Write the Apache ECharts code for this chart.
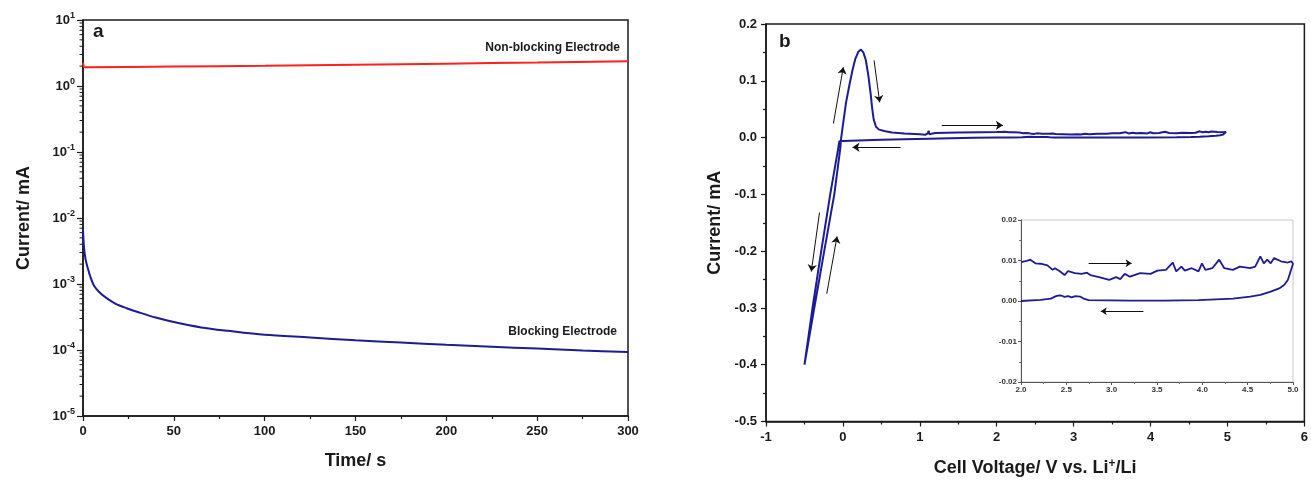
<!DOCTYPE html>
<html>
<head>
<meta charset="utf-8">
<script src="https://cdn.jsdelivr.net/npm/echarts@6/dist/echarts.min.js"></script>
<style>
  html, body { margin: 0; padding: 0; background: #fff; }
  #chart { width: 1311px; height: 482px; }
</style>
</head>
<body>
<div id="chart"></div>
<script>
// panel a: current vs time (log scale)
var timeBlocking = [0, 0.3, 0.6, 1, 1.5, 2.5, 4, 6, 9, 13, 18, 24, 31, 40, 50, 65, 80, 100, 125, 150, 175, 200, 225, 250, 275, 300];
var currentBlocking = [6.5e-3, 4.5e-3, 3.5e-3, 2.8e-3, 2.3e-3, 1.8e-3, 1.3e-3, 9.5e-4, 7.5e-4, 6.1e-4, 5.0e-4, 4.3e-4, 3.7e-4, 3.1e-4, 2.65e-4, 2.2e-4, 1.95e-4, 1.7e-4, 1.55e-4, 1.4e-4, 1.3e-4, 1.2e-4, 1.12e-4, 1.05e-4, 0.98e-4, 0.93e-4];
var timeNonBlocking = [0, 0.5, 1, 2, 50, 100, 150, 200, 250, 300];
var currentNonBlocking = [2.25, 1.95, 1.93, 1.92, 1.97, 2.03, 2.1, 2.18, 2.27, 2.38];
var logMinorTicks = [];
for (var n = -5; n < 1; n++) {
  for (var k = 2; k < 10; k++) logMinorTicks.push(k * Math.pow(10, n));
}

// panel b: cyclic voltammogram [V, mA]
var cvForwardLow = [[-0.50,-0.400],[-0.372,-0.300],[-0.243,-0.200],[-0.112,-0.100],[-0.035,-0.020],[-0.022,0.000],[0.00,0.022],[0.04,0.061],[0.085,0.093],[0.125,0.119],[0.16,0.138],[0.20,0.151],[0.235,0.155],[0.265,0.150],[0.297,0.137],[0.33,0.110],[0.36,0.078],[0.38,0.052],[0.40,0.032],[0.43,0.019],[0.47,0.014],[0.55,0.011],[0.64,0.009],[0.80,0.007],[1.00,0.006],[1.07,0.005],[1.10,0.007],[1.115,0.012],[1.125,0.006],[1.2,0.008],[1.5,0.009],[1.8,0.0095]];
var insetForward = [[2.000,0.0096],[2.064,0.0099],[2.102,0.0102],[2.159,0.0093],[2.216,0.0092],[2.292,0.0088],[2.348,0.0077],[2.375,0.0081],[2.424,0.0074],[2.481,0.0064],[2.519,0.0074],[2.595,0.0069],[2.670,0.0067],[2.727,0.0070],[2.765,0.0064],[2.860,0.0059],[2.973,0.0052],[3.049,0.0059],[3.095,0.0054],[3.144,0.0067],[3.201,0.0060],[3.314,0.0069],[3.428,0.0067],[3.504,0.0075],[3.598,0.0077],[3.674,0.0095],[3.712,0.0073],[3.769,0.0085],[3.807,0.0075],[3.883,0.0081],[3.958,0.0073],[3.996,0.0093],[4.034,0.0077],[4.110,0.0081],[4.186,0.0102],[4.242,0.0081],[4.337,0.0077],[4.413,0.0085],[4.527,0.0081],[4.583,0.0085],[4.640,0.0110],[4.678,0.0093],[4.716,0.0102],[4.754,0.0093],[4.792,0.0106],[4.867,0.0098],[4.943,0.0095],[4.981,0.0098],[5.000,0.0092]];
var insetReverse = [[5.000,0.0092],[4.973,0.0073],[4.943,0.0052],[4.905,0.0040],[4.848,0.0031],[4.754,0.0023],[4.640,0.0015],[4.527,0.0011],[4.337,0.0006],[3.958,0.0002],[3.580,0.0001],[3.201,0.0001],[2.746,0.0002],[2.689,0.0006],[2.652,0.0011],[2.63,0.0008],[2.60,0.0012],[2.557,0.0009],[2.52,0.0012],[2.481,0.0010],[2.45,0.0013],[2.424,0.0014],[2.386,0.0012],[2.330,0.0006],[2.216,0.0003],[2.000,0.0000]];
var cvReverseLow = [[1.7,-0.0005],[1.4,-0.001],[1.12,-0.002],[0.8,-0.003],[0.5,-0.004],[0.2,-0.0052],[0.0,-0.006],[-0.046,-0.0065],[-0.075,-0.030],[-0.165,-0.100],[-0.282,-0.200],[-0.395,-0.300],[-0.50,-0.400]];
var cvLoop = cvForwardLow.concat(insetForward, insetReverse, cvReverseLow);
var insetLoop = insetForward.concat(insetReverse);

// scan direction arrows [from, to]
var cvArrows = [
  [[-0.124, 0.0246], [0.005, 0.124]],
  [[0.405, 0.136], [0.478, 0.062]],
  [[1.285, 0.0216], [2.08, 0.0216]],
  [[0.749, -0.017], [0.125, -0.017]],
  [[-0.304, -0.132], [-0.411, -0.236]],
  [[-0.21, -0.275], [-0.076, -0.174]]
];
var insetArrows = [
  [[2.746, 0.0093], [3.22, 0.0093]],
  [[3.35, -0.0025], [2.88, -0.0025]]
];

var FONT = 'Liberation Sans, Arial, sans-serif';
var ink = '#1a1a1a';
var navy = '#1c1c96';

function arrowLines(list) {
  return list.map(function (a) {
    return [{ coord: a[0] }, { coord: a[1] }];
  });
}

var chart = echarts.init(document.getElementById('chart'));

var baseAxisLabel = { color: ink, fontFamily: FONT, fontWeight: 'bold', fontSize: 13 };
var axisLineBlack = { show: true, onZero: false, lineStyle: { color: ink, width: 1.5 } };
var axisLineInset = { show: true, onZero: false, lineStyle: { color: '#555', width: 1 } };

var option = {
  backgroundColor: '#fff',
  animation: false,
  grid: [
    { left: 83, top: 20, width: 545, height: 396, show: true, borderColor: ink, borderWidth: 1.5 },
    { left: 766, top: 24, width: 544, height: 399, show: true, borderColor: ink, borderWidth: 1.5 },
    { left: 1021, top: 220, width: 272, height: 162, show: true, borderColor: '#c8c8c8', borderWidth: 1, backgroundColor: '#fff' }
  ],
  xAxis: [
    {
      gridIndex: 0, type: 'value', min: 0, max: 300, interval: 50,
      name: 'Time/ s', nameLocation: 'middle', nameGap: 36,
      nameTextStyle: { color: ink, fontFamily: FONT, fontWeight: 'bold', fontSize: 18 },
      axisLine: axisLineBlack,
      axisTick: { show: true, length: 5, lineStyle: { color: ink, width: 1.2 } },
      minorTick: { show: true, splitNumber: 2, length: 3, lineStyle: { color: ink, width: 1.2 } },
      axisLabel: Object.assign({ margin: 9 }, baseAxisLabel),
      splitLine: { show: false }
    },
    {
      gridIndex: 1, type: 'value', min: -1, max: 6, interval: 1,
      name: '{t|Cell Voltage/ V vs. Li}{s|+}{t|/Li}', nameLocation: 'middle', nameGap: 36,
      nameTextStyle: {
        rich: {
          t: { color: ink, fontFamily: FONT, fontWeight: 'bold', fontSize: 18 },
          s: { color: ink, fontFamily: FONT, fontWeight: 'bold', fontSize: 12, padding: [0, 0, 9, 0] }
        }
      },
      axisLine: axisLineBlack,
      axisTick: { show: true, length: 5, lineStyle: { color: ink, width: 1.2 } },
      minorTick: { show: true, splitNumber: 2, length: 3, lineStyle: { color: ink, width: 1.2 } },
      axisLabel: Object.assign({ margin: 9 }, baseAxisLabel),
      splitLine: { show: false }
    },
    {
      gridIndex: 2, type: 'value', min: 2, max: 5, interval: 0.5,
      axisLine: axisLineInset,
      axisTick: { show: true, length: 3, lineStyle: { color: '#555' } },
      minorTick: { show: true, splitNumber: 2, length: 2, lineStyle: { color: '#777' } },
      axisLabel: { color: '#333', fontFamily: FONT, fontWeight: 'bold', fontSize: 8, margin: 4, formatter: function (v) { return v.toFixed(1); } },
      splitLine: { show: false }
    }
  ],
  yAxis: [
    {
      gridIndex: 0, type: 'log', logBase: 10, min: 1e-5, max: 10, interval: 1,
      name: 'Current/ mA', nameLocation: 'middle', nameGap: 50,
      nameTextStyle: { color: ink, fontFamily: FONT, fontWeight: 'bold', fontSize: 18 },
      axisLine: axisLineBlack,
      axisTick: { show: true, length: 6, lineStyle: { color: ink, width: 1.2 } },
      axisLabel: {
        margin: 8,
        formatter: function (v) {
          var e = Math.round(Math.log(v) / Math.LN10);
          return '{b|10}{s|' + e + '}';
        },
        rich: {
          b: { color: ink, fontFamily: FONT, fontWeight: 'bold', fontSize: 13 },
          s: { color: ink, fontFamily: FONT, fontWeight: 'bold', fontSize: 9, padding: [0, 0, 8, 0] }
        }
      },
      splitLine: { show: false }
    },
    {
      gridIndex: 1, type: 'value', min: -0.5, max: 0.2, interval: 0.1,
      name: 'Current/ mA', nameLocation: 'middle', nameGap: 42,
      nameTextStyle: { color: ink, fontFamily: FONT, fontWeight: 'bold', fontSize: 18 },
      axisLine: axisLineBlack,
      axisTick: { show: true, length: 5, lineStyle: { color: ink, width: 1.2 } },
      minorTick: { show: true, splitNumber: 2, length: 3, lineStyle: { color: ink, width: 1.2 } },
      axisLabel: Object.assign({ margin: 9, formatter: function (v) { return v.toFixed(1); } }, baseAxisLabel),
      splitLine: { show: false }
    },
    {
      gridIndex: 2, type: 'value', min: -0.02, max: 0.02, interval: 0.01,
      axisLine: axisLineInset,
      axisTick: { show: true, length: 3, lineStyle: { color: '#555' } },
      minorTick: { show: true, splitNumber: 2, length: 2, lineStyle: { color: '#777' } },
      axisLabel: { color: '#333', fontFamily: FONT, fontWeight: 'bold', fontSize: 8, margin: 4, formatter: function (v) { return v.toFixed(2); } },
      splitLine: { show: false }
    }
  ],
  graphic: [
    { type: 'text', left: 93, top: 22, style: { text: 'a', fill: ink, font: 'bold 19px ' + FONT } },
    { type: 'text', left: 779, top: 32, style: { text: 'b', fill: ink, font: 'bold 19px ' + FONT } },
    { type: 'text', right: 691, top: 42, style: { text: 'Non-blocking Electrode', fill: ink, font: 'bold 12px ' + FONT } },
    { type: 'text', right: 694, top: 326, style: { text: 'Blocking Electrode', fill: ink, font: 'bold 12px ' + FONT } }
  ],
  series: [
    {
      type: 'line', xAxisIndex: 0, yAxisIndex: 0, showSymbol: false, smooth: 0.3,
      lineStyle: { color: '#ff1f1f', width: 2 },
      data: timeNonBlocking.map(function (t, i) { return [t, currentNonBlocking[i]]; })
    },
    {
      type: 'line', xAxisIndex: 0, yAxisIndex: 0, showSymbol: false, smooth: 0.3,
      lineStyle: { color: navy, width: 2 },
      data: timeBlocking.map(function (t, i) { return [t, currentBlocking[i]]; })
    },
    {
      // minor ticks of the log axis, drawn at k * 10^n
      type: 'custom', xAxisIndex: 0, yAxisIndex: 0, silent: true, clip: false,
      data: logMinorTicks.map(function (v) { return [0, v]; }),
      renderItem: function (params, api) {
        var p = api.coord([api.value(0), api.value(1)]);
        return { type: 'line', shape: { x1: p[0] - 3.5, y1: p[1], x2: p[0], y2: p[1] }, style: { stroke: ink, lineWidth: 1 } };
      }
    },
    {
      type: 'line', xAxisIndex: 1, yAxisIndex: 1, showSymbol: false,
      lineStyle: { color: navy, width: 2 },
      data: cvLoop,
      markLine: {
        silent: true, symbol: ['none', 'arrow'], symbolSize: 7,
        label: { show: false },
        lineStyle: { color: '#111', width: 1, type: 'solid' },
        data: arrowLines(cvArrows)
      }
    },
    {
      type: 'line', xAxisIndex: 2, yAxisIndex: 2, showSymbol: false,
      lineStyle: { color: navy, width: 1.8 },
      data: insetLoop,
      markLine: {
        silent: true, symbol: ['none', 'arrow'], symbolSize: 6,
        label: { show: false },
        lineStyle: { color: '#111', width: 1, type: 'solid' },
        data: arrowLines(insetArrows)
      }
    }
  ]
};

chart.setOption(option);
</script>
</body>
</html>
